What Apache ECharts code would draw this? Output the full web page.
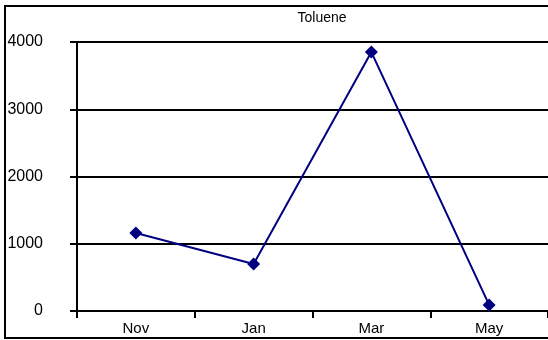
<!DOCTYPE html>
<html>
<head>
<meta charset="utf-8">
<script src="https://cdn.jsdelivr.net/npm/echarts@6/dist/echarts.min.js"></script>
<style>
  html, body { margin: 0; padding: 0; background: #fff; }
  #chart { width: 548px; height: 340px; }
</style>
</head>
<body>
<div id="chart"></div>
<script>
// Monthly toluene readings
const months = ['Nov', 'Jan', 'Mar', 'May'];
const toluene = [1160, 700, 3850, 90];
const yTicks = [0, 1000, 2000, 3000, 4000];

const chart = echarts.init(document.getElementById('chart'), null, { renderer: 'canvas' });
const font = '"Liberation Sans", Arial, sans-serif';

chart.setOption({
  animation: false,
  backgroundColor: '#ffffff',
  title: {
    text: 'Toluene',
    left: 317,
    top: 6,
    textAlign: 'center',
    textStyle: { fontFamily: font, fontSize: 14, fontWeight: 'normal', color: '#000' }
  },
  graphic: [{
    type: 'rect',
    shape: { x: 5, y: 6, width: 600, height: 332 },
    style: { fill: 'none', stroke: '#000', lineWidth: 2 },
    silent: true
  }],
  grid: { left: 77, right: -3, top: 42, bottom: 29, containLabel: false },
  xAxis: {
    type: 'category',
    data: months,
    boundaryGap: true,
    axisLine: { lineStyle: { color: '#000', width: 2 } },
    axisTick: { show: true, length: 7, alignWithLabel: false, lineStyle: { color: '#000', width: 2 } },
    axisLabel: { fontFamily: font, fontSize: 15, color: '#000', margin: 10 },
    splitLine: { show: false }
  },
  yAxis: {
    type: 'value',
    min: yTicks[0],
    max: yTicks[yTicks.length - 1],
    interval: 1000,
    axisLine: { show: true, lineStyle: { color: '#000', width: 2 } },
    axisTick: { show: true, length: 7, lineStyle: { color: '#000', width: 2 } },
    axisLabel: {
      fontFamily: font, fontSize: 16, color: '#000', margin: 34,
      formatter: v => String(v)
    },
    splitLine: { show: true, lineStyle: { color: '#000', width: 2 } }
  },
  series: [{
    type: 'line',
    data: toluene,
    symbol: 'diamond',
    symbolSize: 13,
    lineStyle: { color: '#000080', width: 2 },
    itemStyle: { color: '#000080' }
  }]
});
</script>
</body>
</html>
